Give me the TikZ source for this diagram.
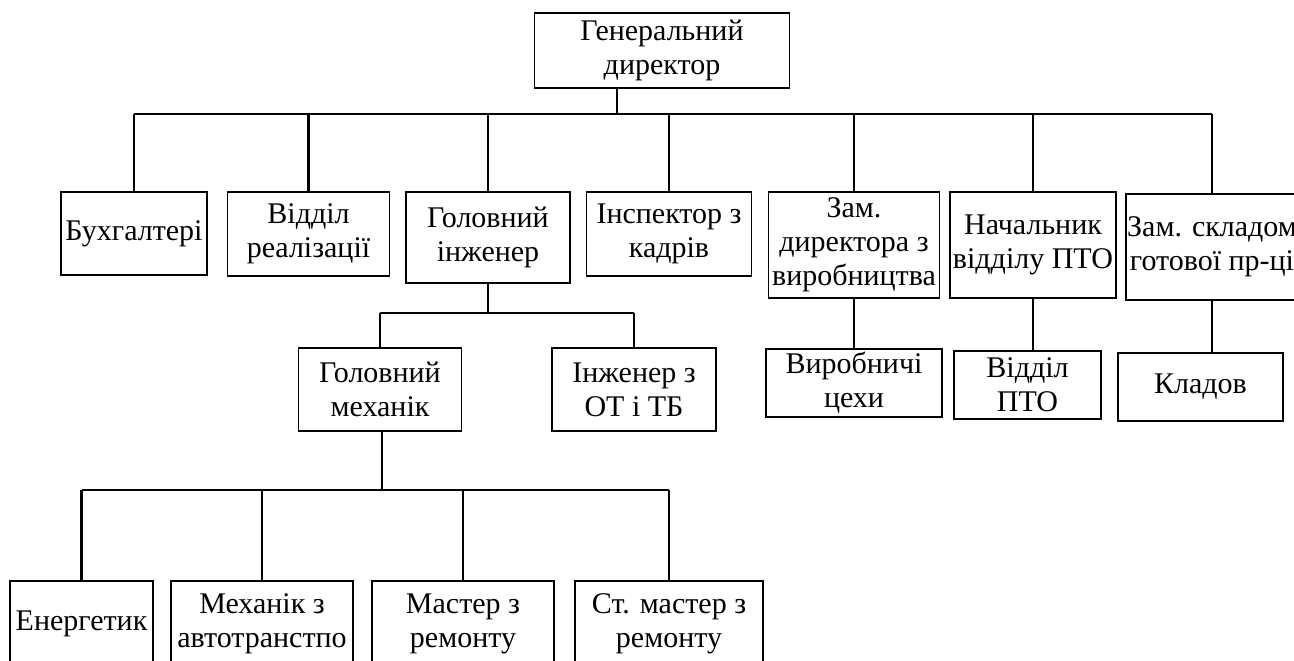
\documentclass[tikz,border=0pt]{standalone}
\usepackage{fontspec}
\setmainfont{Liberation Serif}
\tikzset{
  box/.style={draw, line width=0.8pt, align=center, inner sep=0.5pt,
    font=\fontsize{15}{17}\selectfont},
  link/.style={line width=1.2pt}
}
\begin{document}
\begin{tikzpicture}[x=0.5pt,y=-0.5pt]
\useasboundingbox (0,0) rectangle (1294,660);
\clip (0,0) rectangle (1294,660);
\node[box, minimum width=127.5pt, minimum height=37.5pt] (gd) at (662,50.5) {Генеральний\\директор};
% edit here for the first row
\node[box, minimum width=73pt, minimum height=41.5pt] (buh) at (134,233.5) {Бухгалтері};
\node[box, minimum width=81pt, minimum height=42pt] (vid) at (308.5,234) {Відділ\\реалізації};
\node[box, minimum width=82pt, minimum height=45.5pt] (gi) at (488,237.5) {Головний\\інженер};
\node[box, minimum width=82.5pt, minimum height=42pt] (insp) at (669,234) {Інспектор з\\кадрів};
\node[box, minimum width=85.5pt, minimum height=53pt] (zd) at (854,245) {Зам.\\директора з\\виробництва};
\node[box, minimum width=83pt, minimum height=53pt] (nach) at (1033,245) {Начальник\\відділу ПТО};
\node[box, minimum width=83pt, minimum height=53pt] (skl) at (1212,247) {Зам. складом\\готової пр-ці};
% second row
\node[box, minimum width=81.5pt, minimum height=41.5pt] (gm) at (380,389.5) {Головний\\механік};
\node[box, minimum width=82pt, minimum height=41.5pt] (ing) at (634,389.5) {Інженер з\\ОТ і ТБ};
\node[box, minimum width=88pt, minimum height=34pt] (vc) at (854,383) {Виробничі\\цехи};
\node[box, minimum width=73.5pt, minimum height=34pt] (vpto) at (1027.5,385) {Відділ\\ПТО};
\node[box, minimum width=82.5pt, minimum height=34pt] (klad) at (1200.5,387) {Кладов};
% bottom row (cut by the page)
\node[box, minimum width=71.5pt, minimum height=43pt] (en) at (81.5,624) {Енергетик};
\node[box, minimum width=91pt, minimum height=43pt] (mex) at (262,624) {Механік з\\автотранстпо};
\node[box, minimum width=91pt, minimum height=43pt] (mas) at (463,624) {Мастер з\\ремонту};
\node[box, minimum width=94pt, minimum height=43pt] (stm) at (669,624) {Ст. мастер з\\ремонту};
% edit here for the bus lines
\coordinate (bus1) at (617,114);
\coordinate (bus2) at (488,313);
\coordinate (bus3) at (382,490);
\draw[link] (gd.south -| bus1) -- (bus1);
\draw[link] (buh.north |- bus1) -- (skl.north |- bus1);
\foreach \n in {buh,vid,gi,insp,zd,nach,skl}
\draw[link] (\n.north |- bus1) -- (\n.north);
\draw[link] (gi.south) -- (bus2);
\draw[link] (gm.north |- bus2) -- (ing.north |- bus2);
\foreach \n in {gm,ing}
\draw[link] (\n.north |- bus2) -- (\n.north);
\draw[link] (gm.south -| bus3) -- (bus3);
\draw[link] (en.north |- bus3) -- (stm.north |- bus3);
\foreach \n in {en,mex,mas,stm}
\draw[link] (\n.north |- bus3) -- (\n.north);
% edit here for the single drops
\draw[link] (zd.south) -- (zd.south |- vc.north);
\draw[link] (nach.south) -- (nach.south |- vpto.north);
\draw[link] (skl.south) -- (skl.south |- klad.north);
\end{tikzpicture}
\end{document}
